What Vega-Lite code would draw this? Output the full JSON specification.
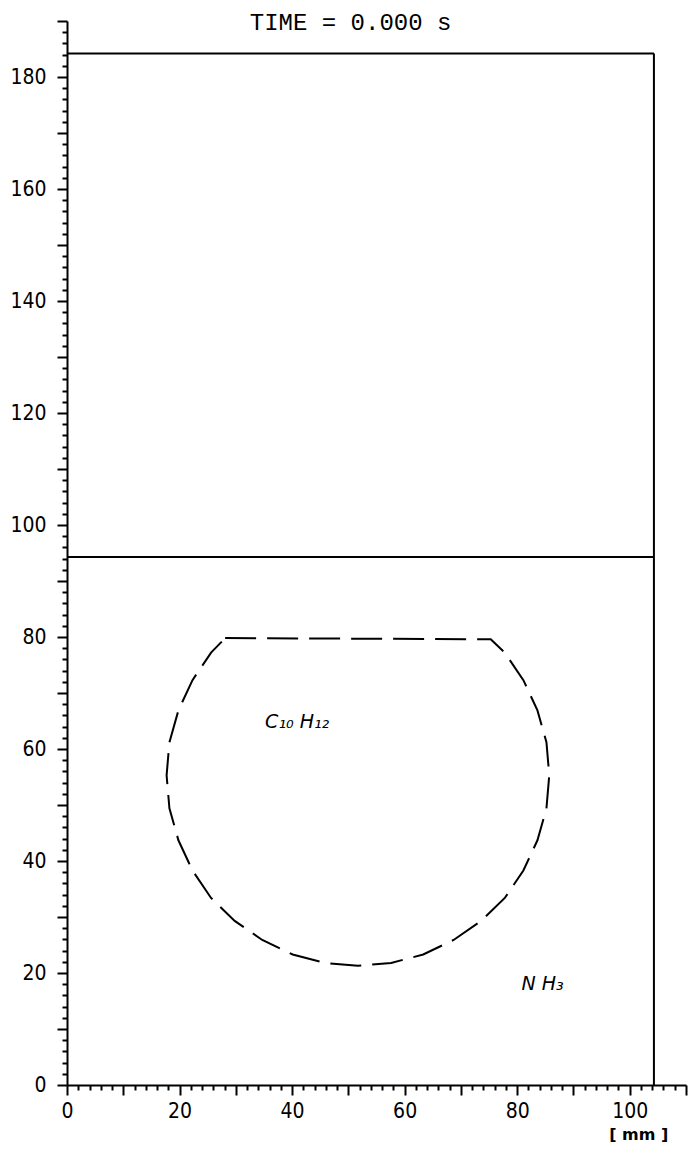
{
  "$schema": "https://vega.github.io/schema/vega-lite/v6.json",
  "width": 619,
  "height": 1064,
  "autosize": {"type": "none"},
  "padding": {"left": 67, "top": 21, "right": 5, "bottom": 64},
  "background": "white",
  "config": {
    "view": {"stroke": null},
    "axis": {
      "domainColor": "black",
      "domainWidth": 2,
      "tickColor": "black",
      "tickWidth": 2,
      "labelColor": "black",
      "labelFont": "Liberation Sans Narrow, DejaVu Sans Condensed, DejaVu Sans",
      "labelFontSize": 21,
      "labelOverlap": false,
      "labelFlush": false,
      "grid": false,
      "title": null
    }
  },
  "encoding": {
    "x": {
      "field": "x",
      "type": "quantitative",
      "scale": {"domain": [0, 110], "nice": false, "zero": false},
      "axis": {
        "values": [0,2,4,6,8,10,12,14,16,18,20,22,24,26,28,30,32,34,36,38,40,42,44,46,48,50,52,54,56,58,60,62,64,66,68,70,72,74,76,78,80,82,84,86,88,90,92,94,96,98,100,102,104,106,108,110],
        "labelExpr": "datum.value % 20 === 0 ? datum.label : ''",
        "tickSize": {"condition": {"test": "datum.value % 10 === 0", "value": 10}, "value": 5},
        "labelPadding": 5
      }
    },
    "y": {
      "field": "y",
      "type": "quantitative",
      "scale": {"domain": [0, 190], "nice": false, "zero": false},
      "axis": {
        "values": [0,2,4,6,8,10,12,14,16,18,20,22,24,26,28,30,32,34,36,38,40,42,44,46,48,50,52,54,56,58,60,62,64,66,68,70,72,74,76,78,80,82,84,86,88,90,92,94,96,98,100,102,104,106,108,110,112,114,116,118,120,122,124,126,128,130,132,134,136,138,140,142,144,146,148,150,152,154,156,158,160,162,164,166,168,170,172,174,176,178,180,182,184,186,188,190],
        "labelExpr": "datum.value % 20 === 0 ? datum.label : ''",
        "tickSize": {"condition": {"test": "datum.value % 10 === 0", "value": 10}, "value": 5},
        "labelPadding": 11
      }
    }
  },
  "layer": [
    {
      "description": "Vessel outline and the initial interface between the two layers",
      "data": {
        "values": [
          {"part": "top wall", "x": 0, "y": 184.2, "x2": 104.3, "y2": 184.2},
          {"part": "right wall", "x": 104.3, "y": 0, "x2": 104.3, "y2": 184.2},
          {"part": "interface", "x": 0, "y": 94.3, "x2": 104.3, "y2": 94.3}
        ]
      },
      "mark": {"type": "rule", "color": "black", "strokeWidth": 2},
      "encoding": {
        "x2": {"field": "x2"},
        "y2": {"field": "y2"}
      }
    },
    {
      "description": "Initial droplet contour, flat-topped where it meets the free surface",
      "data": {
        "values": [
          {"i": 0, "x": 28.1, "y": 79.8},
          {"i": 1, "x": 75.3, "y": 79.6},
          {"i": 2, "x": 77.8, "y": 77.2},
          {"i": 3, "x": 81.1, "y": 72.3},
          {"i": 4, "x": 83.6, "y": 66.9},
          {"i": 5, "x": 85.2, "y": 61.2},
          {"i": 6, "x": 85.7, "y": 55.3},
          {"i": 7, "x": 85.2, "y": 49.4},
          {"i": 8, "x": 83.6, "y": 43.7},
          {"i": 9, "x": 81.1, "y": 38.3},
          {"i": 10, "x": 77.8, "y": 33.4},
          {"i": 11, "x": 73.6, "y": 29.3},
          {"i": 12, "x": 68.7, "y": 25.9},
          {"i": 13, "x": 63.3, "y": 23.3},
          {"i": 14, "x": 57.6, "y": 21.8},
          {"i": 15, "x": 51.7, "y": 21.3},
          {"i": 16, "x": 45.8, "y": 21.8},
          {"i": 17, "x": 40.1, "y": 23.3},
          {"i": 18, "x": 34.7, "y": 25.9},
          {"i": 19, "x": 29.8, "y": 29.3},
          {"i": 20, "x": 25.6, "y": 33.4},
          {"i": 21, "x": 22.3, "y": 38.3},
          {"i": 22, "x": 19.8, "y": 43.7},
          {"i": 23, "x": 18.2, "y": 49.4},
          {"i": 24, "x": 17.7, "y": 55.3},
          {"i": 25, "x": 18.2, "y": 61.2},
          {"i": 26, "x": 19.8, "y": 66.9},
          {"i": 27, "x": 22.3, "y": 72.3},
          {"i": 28, "x": 25.6, "y": 77.2},
          {"i": 29, "x": 28.1, "y": 79.8}
        ]
      },
      "mark": {"type": "line", "color": "black", "strokeWidth": 2, "strokeDash": [31, 11], "interpolate": "linear"},
      "encoding": {
        "order": {"field": "i", "type": "quantitative"}
      }
    },
    {
      "description": "Species labels",
      "data": {
        "values": [
          {"label": "C₁₀ H₁₂", "x": 40.9, "y": 64.8},
          {"label": "N H₃", "x": 84.5, "y": 18.0}
        ]
      },
      "mark": {"type": "text", "font": "DejaVu Sans", "fontStyle": "italic", "fontSize": 19, "color": "black", "align": "center", "baseline": "middle"},
      "encoding": {
        "text": {"field": "label"}
      }
    },
    {
      "description": "Time stamp above the vessel",
      "data": {"values": [{"label": "TIME = 0.000 s", "x": 50.4, "y": 189.6}]},
      "mark": {"type": "text", "font": "Liberation Mono", "fontSize": 24, "color": "black", "align": "center", "baseline": "middle", "clip": false},
      "encoding": {
        "text": {"field": "label"}
      }
    },
    {
      "description": "Length unit under the x axis",
      "data": {"values": [{"label": "[  mm  ]", "x": 101.6, "y": -9.0}]},
      "mark": {"type": "text", "font": "DejaVu Sans", "fontWeight": "bold", "fontSize": 16, "color": "black", "align": "center", "baseline": "middle", "clip": false},
      "encoding": {
        "text": {"field": "label"}
      }
    }
  ]
}
